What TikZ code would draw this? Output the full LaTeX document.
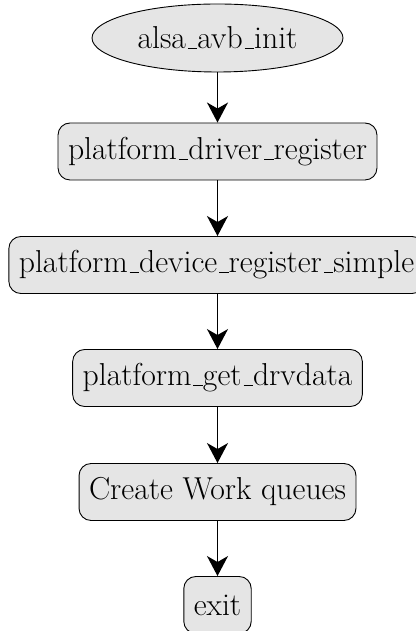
\documentclass[tikz,border=0pt]{standalone}
\usetikzlibrary{shapes.geometric,arrows.meta}
\newcommand\usc{\leavevmode\kern.06em\vbox{\hrule width.3em}}
\begin{document}
\begin{tikzpicture}[x=1pt,y=1pt,
  every node/.style={font=\fontsize{31.7}{38}\selectfont},
  procbox/.style={draw=black, line width=0.9pt, fill=black!10, rounded corners=12pt, minimum height=57pt, inner xsep=10pt},
  startnode/.style={draw=black, line width=0.9pt, fill=black!10, ellipse, minimum width=251pt, minimum height=68pt, inner sep=0pt},
  flow/.style={line width=1.7pt, -{Stealth[length=20pt,width=21pt,inset=6pt]}}]
\useasboundingbox (0,0) rectangle (415,631);
\node[startnode] (n0) at (217.5,593) {alsa\usc avb\usc init};
\node[procbox] (n1) at (217.5,479.5) {platform\usc driver\usc register};
\node[procbox] (n2) at (216.5,366) {platform\usc device\usc register\usc simple};
\node[procbox] (n3) at (217.5,253) {platform\usc get\usc drvdata};
\node[procbox] (n4) at (217.5,139) {Create Work queues};
\node[procbox] (n5) at (217.5,26) {exit};
\draw[flow] (n0) -- (n1);
\draw[flow] (n1) -- (n1 |- n2.north);
\draw[flow] (n1 |- n2.south) -- (n3);
\draw[flow] (n3) -- (n4);
\draw[flow] (n4) -- (n5);
\end{tikzpicture}
\end{document}
